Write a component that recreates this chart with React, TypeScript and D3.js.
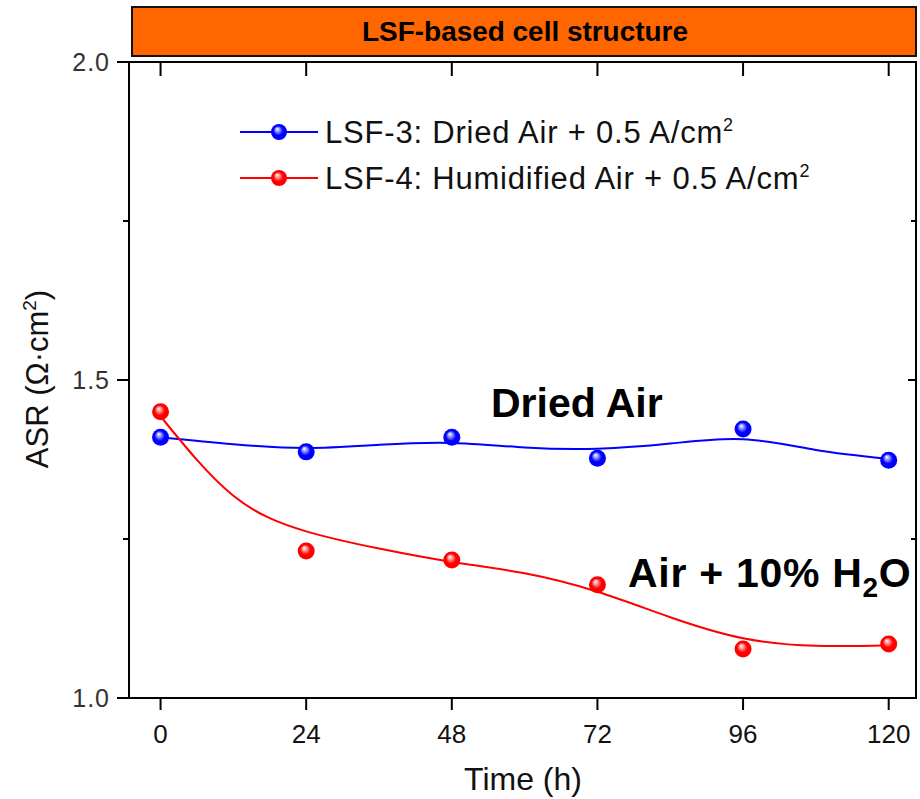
import React from 'react';
import * as d3 from 'd3';

// time points (h)
const hours = [0, 24, 48, 72, 96, 120];
// measured ASR values
const dryAsr = [1.41, 1.387, 1.41, 1.377, 1.423, 1.374];
const wetAsr = [1.45, 1.231, 1.217, 1.178, 1.077, 1.085];
// smoothed fit curves, read at every 12 h
const fitHours = [0, 12, 24, 36, 48, 60, 72, 84, 96, 108, 120];
const dryFit = [1.41, 1.399, 1.393, 1.398, 1.401, 1.394, 1.392, 1.4, 1.407, 1.39, 1.376];
const wetFit = [1.443, 1.318, 1.262, 1.235, 1.214, 1.196, 1.167, 1.127, 1.094, 1.082, 1.083];

const yMajor = [1.0, 1.5, 2.0];
const yMinor = [1.25, 1.75];

const series = [
  { name: 'LSF-3: Dried Air + 0.5 A/cm', color: '#0000ff', light: '#9aa0ff', values: dryAsr, fit: dryFit, id: 'blue' },
  { name: 'LSF-4: Humidified Air + 0.5 A/cm', color: '#ff0000', light: '#ff9a9a', values: wetAsr, fit: wetFit, id: 'red' },
];

const W = 920, H = 799;
const left = 129, right = 916, top = 62, bottom = 698;

export default function App() {
  const x = d3.scaleLinear().domain([-5.2, 124.5]).range([left, right]);
  const y = d3.scaleLinear().domain([1.0, 2.0]).range([bottom, top]);
  const line = d3.line<number>()
    .x((_, i) => x(fitHours[i]))
    .y(d => y(d))
    .curve(d3.curveNatural);

  const font = '"Liberation Sans", Arial, sans-serif';

  return (
    <svg width={W} height={H} style={{ position: 'absolute', left: 0, top: 0, background: '#fff' }}>
      <defs>
        {series.map(s => (
          <radialGradient key={s.id} id={'ball-' + s.id} cx="0.5" cy="0.5" r="0.5" fx="0.38" fy="0.3">
            <stop offset="0" stopColor="#ffffff" />
            <stop offset="0.25" stopColor={s.light} />
            <stop offset="0.6" stopColor={s.color} />
            <stop offset="1" stopColor={s.color} />
          </radialGradient>
        ))}
      </defs>

      {/* title bar */}
      <rect x={132} y={7} width={784} height={49} fill="#ff6600" stroke="#111" strokeWidth={2} />
      <text x={525} y={41} textAnchor="middle" fontFamily={font} fontWeight="bold" fontSize={27}
        textLength={326} lengthAdjust="spacingAndGlyphs" fill="#000">LSF-based cell structure</text>

      {/* frame */}
      <rect x={left} y={top} width={right - left} height={bottom - top} fill="none" stroke="#000" strokeWidth={2} />

      {/* y ticks */}
      {yMajor.map(v => (
        <g key={v}>
          <line x1={left - 12} x2={left} y1={y(v)} y2={y(v)} stroke="#000" strokeWidth={2} />
          <text x={110} y={y(v) + 9} textAnchor="end" fontFamily={font} fontSize={25} letterSpacing={1} fill="#333">{v.toFixed(1)}</text>
          {v > 1 && v < 2 && <line x1={right - 8} x2={right} y1={y(v)} y2={y(v)} stroke="#000" strokeWidth={2} />}
        </g>
      ))}
      {yMinor.map(v => (
        <g key={v}>
          <line x1={left - 6} x2={left} y1={y(v)} y2={y(v)} stroke="#000" strokeWidth={2} />
          <line x1={right - 5} x2={right} y1={y(v)} y2={y(v)} stroke="#000" strokeWidth={2} />
        </g>
      ))}

      {/* x ticks */}
      {hours.map(h => (
        <g key={h}>
          <line x1={x(h)} x2={x(h)} y1={bottom} y2={bottom + 12} stroke="#000" strokeWidth={2} />
          <line x1={x(h)} x2={x(h)} y1={top} y2={top + 14} stroke="#000" strokeWidth={2} />
          <text x={x(h)} y={743} textAnchor="middle" fontFamily={font} fontSize={26} fill="#111">{h}</text>
        </g>
      ))}

      {/* axis titles */}
      <text x={523} y={790} textAnchor="middle" fontFamily={font} fontSize={32} fill="#111">Time (h)</text>
      <text transform={`translate(48,379) rotate(-90)`} textAnchor="middle" fontFamily={font} fontSize={31} fill="#111">
        ASR (Ω·cm<tspan dy={-12} fontSize={19}>2</tspan><tspan dy={12}>)</tspan>
      </text>

      {/* curves and points */}
      {series.map(s => (
        <g key={s.id}>
          <path d={line(s.fit) || ''} fill="none" stroke={s.color} strokeWidth={2} />
          {s.values.map((v, i) => (
            <circle key={i} cx={x(hours[i])} cy={y(v)} r={8.5} fill={`url(#ball-${s.id})`} />
          ))}
        </g>
      ))}

      {/* legend */}
      {series.map((s, i) => {
        const ly = 132 + i * 46;
        return (
          <g key={s.id}>
            <line x1={240} x2={318} y1={ly} y2={ly} stroke={s.color} strokeWidth={2} />
            <circle cx={279} cy={ly} r={8} fill={`url(#ball-${s.id})`} />
            <text x={325} y={ly + 11} fontFamily={font} fontSize={31} letterSpacing={0.8} fill="#111">
              {s.name}<tspan dy={-12} fontSize={18}>2</tspan>
            </text>
          </g>
        );
      })}

      {/* annotations */}
      <text x={491} y={417} fontFamily={font} fontWeight="bold" fontSize={41} fill="#000">Dried Air</text>
      <text x={628} y={587} fontFamily={font} fontWeight="bold" fontSize={41} letterSpacing={0.7} fill="#000">
        Air + 10% H<tspan dy={10} fontSize={28}>2</tspan><tspan dy={-10}>O</tspan>
      </text>
    </svg>
  );
}
